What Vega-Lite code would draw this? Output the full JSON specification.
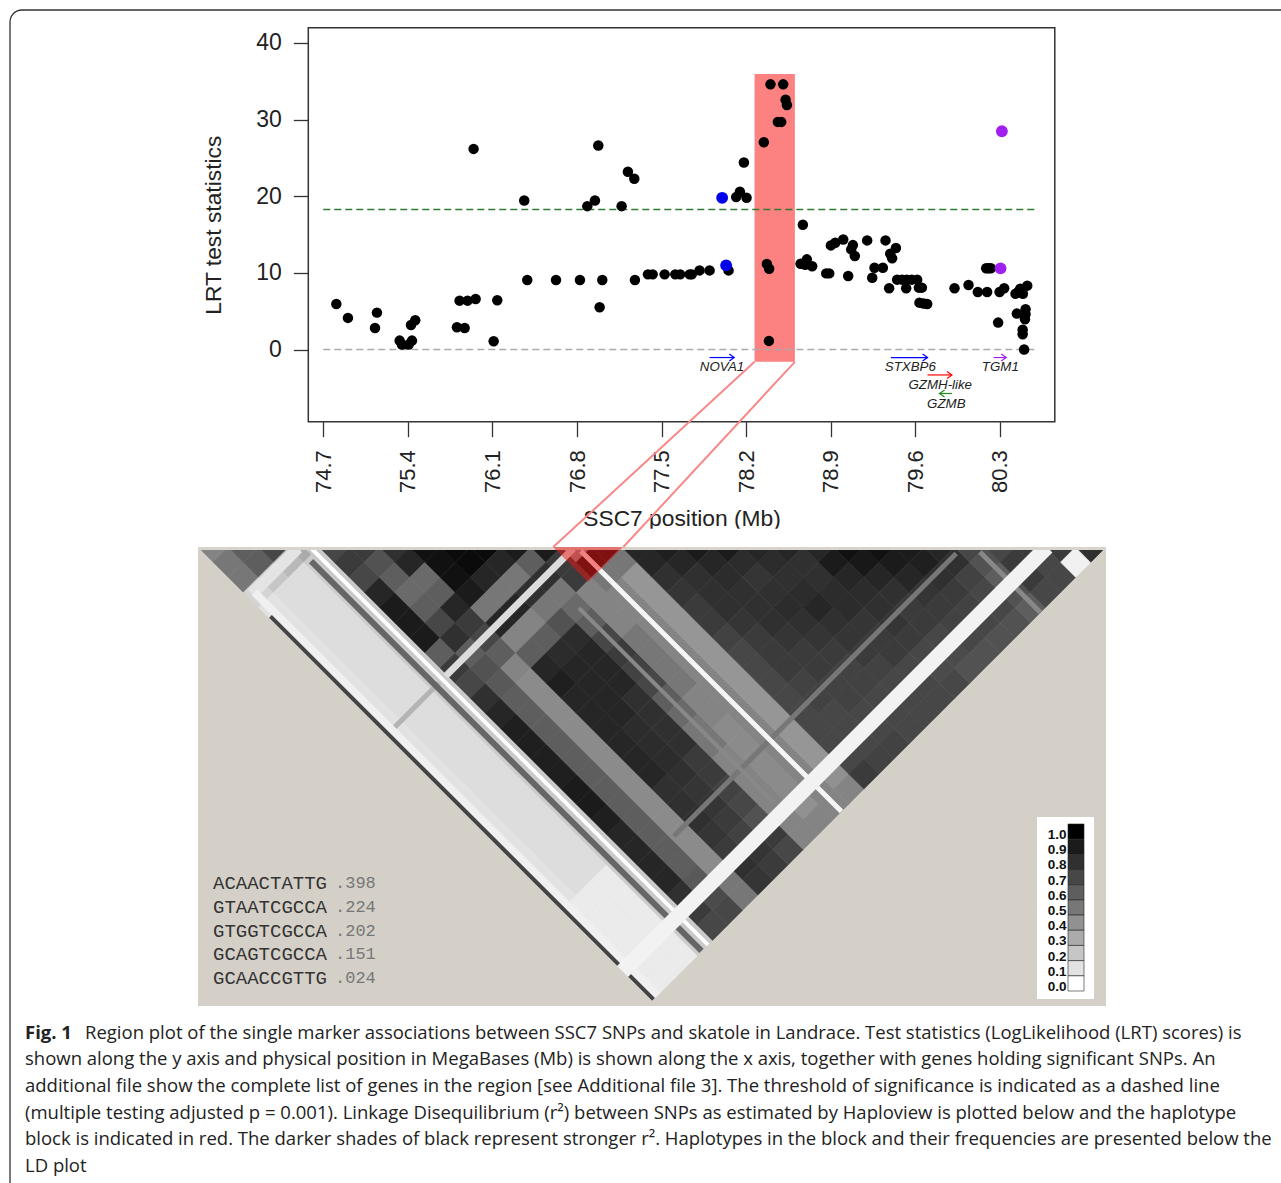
{"$schema":"https://vega.github.io/schema/vega-lite/v6.json","width":1281,"height":1183,"padding":0,"autosize":{"type":"none"},"background":"white","config":{"view":{"stroke":null}},
"datasets":{
"cells":[
{"u":1,"v":1,"r":0.45},{"u":2,"v":2,"r":0.5},{"u":3,"v":3,"r":0.5},{"u":4,"v":4,"r":0.15},{"u":5,"v":5,"r":0.1},{"u":6,"v":6,"r":0.1},{"u":7,"v":7,"r":0.1},{"u":8,"v":8,"r":0.1},{"u":9,"v":9,"r":0.1},{"u":10,"v":10,"r":0.1},{"u":11,"v":11,"r":0.1},{"u":12,"v":12,"r":0.1},{"u":13,"v":13,"r":0.1},{"u":14,"v":14,"r":0.1},{"u":15,"v":15,"r":0.1},{"u":16,"v":16,"r":0.1},{"u":17,"v":17,"r":0.1},{"u":18,"v":18,"r":0.1},{"u":19,"v":19,"r":0.1},{"u":20,"v":20,"r":0.1},{"u":21,"v":21,"r":0.1},{"u":22,"v":22,"r":0.1},{"u":23,"v":23,"r":0.1},{"u":24,"v":24,"r":0.1},{"u":25,"v":25,"r":0.07},{"u":26,"v":26,"r":0.07},{"u":27,"v":27,"r":0.07},{"u":28,"v":28,"r":0.07},{"u":29,"v":29,"r":0.07},{"u":30,"v":30,"r":0.07},
{"u":3,"v":1,"r":0.6},{"u":4,"v":2,"r":0.6},{"u":5,"v":3,"r":0.2},{"u":6,"v":4,"r":0.12},{"u":7,"v":5,"r":0.12},{"u":8,"v":6,"r":0.12},{"u":9,"v":7,"r":0.12},{"u":10,"v":8,"r":0.12},{"u":11,"v":9,"r":0.12},{"u":12,"v":10,"r":0.12},{"u":13,"v":11,"r":0.12},{"u":14,"v":12,"r":0.12},{"u":15,"v":13,"r":0.12},{"u":16,"v":14,"r":0.12},{"u":17,"v":15,"r":0.12},{"u":18,"v":16,"r":0.12},{"u":19,"v":17,"r":0.12},{"u":20,"v":18,"r":0.12},{"u":21,"v":19,"r":0.12},{"u":22,"v":20,"r":0.12},{"u":23,"v":21,"r":0.12},{"u":24,"v":22,"r":0.12},{"u":25,"v":23,"r":0.12},{"u":26,"v":24,"r":0.07},{"u":27,"v":25,"r":0.07},{"u":28,"v":26,"r":0.07},{"u":29,"v":27,"r":0.07},{"u":30,"v":28,"r":0.07},{"u":31,"v":29,"r":0.07},
{"u":5,"v":1,"r":0.7},{"u":6,"v":2,"r":0.25},{"u":7,"v":3,"r":0.12},{"u":8,"v":4,"r":0.12},{"u":9,"v":5,"r":0.12},{"u":10,"v":6,"r":0.12},{"u":11,"v":7,"r":0.12},{"u":12,"v":8,"r":0.12},{"u":13,"v":9,"r":0.12},{"u":14,"v":10,"r":0.12},{"u":15,"v":11,"r":0.12},{"u":16,"v":12,"r":0.12},{"u":17,"v":13,"r":0.12},{"u":18,"v":14,"r":0.12},{"u":19,"v":15,"r":0.12},{"u":20,"v":16,"r":0.12},{"u":21,"v":17,"r":0.12},{"u":22,"v":18,"r":0.12},{"u":23,"v":19,"r":0.12},{"u":24,"v":20,"r":0.12},{"u":25,"v":21,"r":0.12},{"u":26,"v":22,"r":0.12},{"u":27,"v":23,"r":0.07},{"u":28,"v":24,"r":0.07},{"u":29,"v":25,"r":0.07},{"u":30,"v":26,"r":0.07},{"u":31,"v":27,"r":0.07},{"u":32,"v":28,"r":0.07},
{"u":7,"v":1,"r":0.3},{"u":8,"v":2,"r":0.18},{"u":9,"v":3,"r":0.18},{"u":10,"v":4,"r":0.18},{"u":11,"v":5,"r":0.18},{"u":12,"v":6,"r":0.18},{"u":13,"v":7,"r":0.18},{"u":14,"v":8,"r":0.18},{"u":15,"v":9,"r":0.18},{"u":16,"v":10,"r":0.18},{"u":17,"v":11,"r":0.18},{"u":18,"v":12,"r":0.18},{"u":19,"v":13,"r":0.18},{"u":20,"v":14,"r":0.18},{"u":21,"v":15,"r":0.18},{"u":22,"v":16,"r":0.18},{"u":23,"v":17,"r":0.18},{"u":24,"v":18,"r":0.18},{"u":25,"v":19,"r":0.18},{"u":26,"v":20,"r":0.18},{"u":27,"v":21,"r":0.18},{"u":28,"v":22,"r":0.18},{"u":29,"v":23,"r":0.18},{"u":30,"v":24,"r":0.18},{"u":31,"v":25,"r":0.18},{"u":32,"v":26,"r":0.18},{"u":33,"v":27,"r":0.18},
{"u":9,"v":1,"r":0.7},{"u":10,"v":2,"r":0.75},{"u":11,"v":3,"r":0.7},{"u":12,"v":4,"r":0.85},{"u":13,"v":5,"r":0.9},{"u":14,"v":6,"r":0.9},{"u":15,"v":7,"r":0.9},{"u":16,"v":8,"r":0.6},{"u":17,"v":9,"r":0.75},{"u":18,"v":10,"r":0.7},{"u":19,"v":11,"r":0.8},{"u":20,"v":12,"r":0.85},{"u":21,"v":13,"r":0.88},{"u":22,"v":14,"r":0.88},{"u":23,"v":15,"r":0.88},{"u":24,"v":16,"r":0.88},{"u":25,"v":17,"r":0.9},{"u":26,"v":18,"r":0.9},{"u":27,"v":19,"r":0.88},{"u":28,"v":20,"r":0.85},{"u":29,"v":21,"r":0.85},{"u":30,"v":22,"r":0.85},{"u":31,"v":23,"r":0.85},{"u":32,"v":24,"r":0.8},{"u":33,"v":25,"r":0.75},{"u":34,"v":26,"r":0.7},
{"u":11,"v":1,"r":0.75},{"u":12,"v":2,"r":0.65},{"u":13,"v":3,"r":0.6},{"u":14,"v":4,"r":0.55},{"u":15,"v":5,"r":0.6},{"u":16,"v":6,"r":0.7},{"u":17,"v":7,"r":0.8},{"u":18,"v":8,"r":0.6},{"u":19,"v":9,"r":0.65},{"u":20,"v":10,"r":0.62},{"u":21,"v":11,"r":0.6},{"u":22,"v":12,"r":0.6},{"u":23,"v":13,"r":0.6},{"u":24,"v":14,"r":0.6},{"u":25,"v":15,"r":0.6},{"u":26,"v":16,"r":0.6},{"u":27,"v":17,"r":0.6},{"u":28,"v":18,"r":0.6},{"u":29,"v":19,"r":0.6},{"u":30,"v":20,"r":0.6},{"u":31,"v":21,"r":0.6},{"u":32,"v":22,"r":0.6},{"u":33,"v":23,"r":0.62},{"u":34,"v":24,"r":0.68},{"u":35,"v":25,"r":0.7},
{"u":13,"v":1,"r":0.8},{"u":14,"v":2,"r":0.85},{"u":15,"v":3,"r":0.55},{"u":16,"v":4,"r":0.6},{"u":17,"v":5,"r":0.85},{"u":18,"v":6,"r":0.75},{"u":19,"v":7,"r":0.7},{"u":20,"v":8,"r":0.6},{"u":21,"v":9,"r":0.45},{"u":22,"v":10,"r":0.42},{"u":23,"v":11,"r":0.42},{"u":24,"v":12,"r":0.42},{"u":25,"v":13,"r":0.42},{"u":26,"v":14,"r":0.42},{"u":27,"v":15,"r":0.42},{"u":28,"v":16,"r":0.42},{"u":29,"v":17,"r":0.42},{"u":30,"v":18,"r":0.42},{"u":31,"v":19,"r":0.42},{"u":32,"v":20,"r":0.42},{"u":33,"v":21,"r":0.42},{"u":34,"v":22,"r":0.42},{"u":35,"v":23,"r":0.5},{"u":36,"v":24,"r":0.5},
{"u":15,"v":1,"r":0.95},{"u":16,"v":2,"r":0.95},{"u":17,"v":3,"r":0.95},{"u":18,"v":4,"r":0.9},{"u":19,"v":5,"r":0.5},{"u":20,"v":6,"r":0.85},{"u":21,"v":7,"r":0.45},{"u":22,"v":8,"r":0.6},{"u":23,"v":9,"r":0.85},{"u":24,"v":10,"r":0.88},{"u":25,"v":11,"r":0.85},{"u":26,"v":12,"r":0.85},{"u":27,"v":13,"r":0.85},{"u":28,"v":14,"r":0.85},{"u":29,"v":15,"r":0.85},{"u":30,"v":16,"r":0.85},{"u":31,"v":17,"r":0.8},{"u":32,"v":18,"r":0.8},{"u":33,"v":19,"r":0.8},{"u":34,"v":20,"r":0.78},{"u":35,"v":21,"r":0.75},{"u":36,"v":22,"r":0.8},{"u":37,"v":23,"r":0.78},
{"u":17,"v":1,"r":0.97},{"u":18,"v":2,"r":0.97},{"u":19,"v":3,"r":0.85},{"u":20,"v":4,"r":0.5},{"u":21,"v":5,"r":0.85},{"u":22,"v":6,"r":0.45},{"u":23,"v":7,"r":0.6},{"u":24,"v":8,"r":0.82},{"u":25,"v":9,"r":0.85},{"u":26,"v":10,"r":0.85},{"u":27,"v":11,"r":0.85},{"u":28,"v":12,"r":0.85},{"u":29,"v":13,"r":0.82},{"u":30,"v":14,"r":0.82},{"u":31,"v":15,"r":0.82},{"u":32,"v":16,"r":0.8},{"u":33,"v":17,"r":0.78},{"u":34,"v":18,"r":0.78},{"u":35,"v":19,"r":0.75},{"u":36,"v":20,"r":0.72},{"u":37,"v":21,"r":0.78},{"u":38,"v":22,"r":0.75},
{"u":19,"v":1,"r":0.97},{"u":20,"v":2,"r":0.85},{"u":21,"v":3,"r":0.5},{"u":22,"v":4,"r":0.8},{"u":23,"v":5,"r":0.5},{"u":24,"v":6,"r":0.65},{"u":25,"v":7,"r":0.82},{"u":26,"v":8,"r":0.85},{"u":27,"v":9,"r":0.85},{"u":28,"v":10,"r":0.85},{"u":29,"v":11,"r":0.8},{"u":30,"v":12,"r":0.8},{"u":31,"v":13,"r":0.8},{"u":32,"v":14,"r":0.8},{"u":33,"v":15,"r":0.75},{"u":34,"v":16,"r":0.75},{"u":35,"v":17,"r":0.72},{"u":36,"v":18,"r":0.7},{"u":37,"v":19,"r":0.65},{"u":38,"v":20,"r":0.75},{"u":39,"v":21,"r":0.7},
{"u":21,"v":1,"r":0.9},{"u":22,"v":2,"r":0.6},{"u":23,"v":3,"r":0.8},{"u":24,"v":4,"r":0.5},{"u":25,"v":5,"r":0.55},{"u":26,"v":6,"r":0.6},{"u":27,"v":7,"r":0.7},{"u":28,"v":8,"r":0.75},{"u":29,"v":9,"r":0.72},{"u":30,"v":10,"r":0.7},{"u":31,"v":11,"r":0.6},{"u":32,"v":12,"r":0.55},{"u":33,"v":13,"r":0.5},{"u":34,"v":14,"r":0.5},{"u":35,"v":15,"r":0.45},{"u":36,"v":16,"r":0.45},{"u":37,"v":17,"r":0.45},{"u":38,"v":18,"r":0.45},{"u":39,"v":19,"r":0.45},{"u":40,"v":20,"r":0.45},
{"u":23,"v":1,"r":0.9},{"u":24,"v":2,"r":0.75},{"u":25,"v":3,"r":0.75},{"u":26,"v":4,"r":0.45},{"u":27,"v":5,"r":0.45},{"u":28,"v":6,"r":0.45},{"u":29,"v":7,"r":0.5},{"u":30,"v":8,"r":0.5},{"u":31,"v":9,"r":0.5},{"u":32,"v":10,"r":0.5},{"u":33,"v":11,"r":0.45},{"u":34,"v":12,"r":0.45},{"u":35,"v":13,"r":0.42},{"u":36,"v":14,"r":0.42},{"u":37,"v":15,"r":0.42},{"u":38,"v":16,"r":0.42},{"u":39,"v":17,"r":0.42},{"u":40,"v":18,"r":0.4},{"u":41,"v":19,"r":0.45},
{"u":25,"v":1,"r":0.4},{"u":26,"v":2,"r":0.95},{"u":27,"v":3,"r":0.5},{"u":28,"v":4,"r":0.45},{"u":29,"v":5,"r":0.45},{"u":30,"v":6,"r":0.45},{"u":31,"v":7,"r":0.45},{"u":32,"v":8,"r":0.45},{"u":33,"v":9,"r":0.45},{"u":34,"v":10,"r":0.45},{"u":35,"v":11,"r":0.45},{"u":36,"v":12,"r":0.45},{"u":37,"v":13,"r":0.45},{"u":38,"v":14,"r":0.45},{"u":39,"v":15,"r":0.45},{"u":40,"v":16,"r":0.45},{"u":41,"v":17,"r":0.45},{"u":42,"v":18,"r":0.45},
{"u":27,"v":1,"r":0.95},{"u":28,"v":2,"r":0.5},{"u":29,"v":3,"r":0.38},{"u":30,"v":4,"r":0.38},{"u":31,"v":5,"r":0.38},{"u":32,"v":6,"r":0.38},{"u":33,"v":7,"r":0.38},{"u":34,"v":8,"r":0.38},{"u":35,"v":9,"r":0.38},{"u":36,"v":10,"r":0.38},{"u":37,"v":11,"r":0.38},{"u":38,"v":12,"r":0.38},{"u":39,"v":13,"r":0.38},{"u":40,"v":14,"r":0.38},{"u":41,"v":15,"r":0.38},{"u":42,"v":16,"r":0.4},{"u":43,"v":17,"r":0.45},
{"u":29,"v":1,"r":0.85},{"u":30,"v":2,"r":0.85},{"u":31,"v":3,"r":0.8},{"u":32,"v":4,"r":0.78},{"u":33,"v":5,"r":0.75},{"u":34,"v":6,"r":0.75},{"u":35,"v":7,"r":0.72},{"u":36,"v":8,"r":0.7},{"u":37,"v":9,"r":0.7},{"u":38,"v":10,"r":0.7},{"u":39,"v":11,"r":0.7},{"u":40,"v":12,"r":0.7},{"u":41,"v":13,"r":0.7},{"u":42,"v":14,"r":0.7},{"u":43,"v":15,"r":0.7},{"u":44,"v":16,"r":0.75},
{"u":31,"v":1,"r":0.88},{"u":32,"v":2,"r":0.85},{"u":33,"v":3,"r":0.8},{"u":34,"v":4,"r":0.8},{"u":35,"v":5,"r":0.8},{"u":36,"v":6,"r":0.78},{"u":37,"v":7,"r":0.75},{"u":38,"v":8,"r":0.75},{"u":39,"v":9,"r":0.75},{"u":40,"v":10,"r":0.72},{"u":41,"v":11,"r":0.72},{"u":42,"v":12,"r":0.7},{"u":43,"v":13,"r":0.7},{"u":44,"v":14,"r":0.7},{"u":45,"v":15,"r":0.72},
{"u":33,"v":1,"r":0.9},{"u":34,"v":2,"r":0.85},{"u":35,"v":3,"r":0.82},{"u":36,"v":4,"r":0.8},{"u":37,"v":5,"r":0.8},{"u":38,"v":6,"r":0.8},{"u":39,"v":7,"r":0.78},{"u":40,"v":8,"r":0.75},{"u":41,"v":9,"r":0.75},{"u":42,"v":10,"r":0.72},{"u":43,"v":11,"r":0.72},{"u":44,"v":12,"r":0.7},{"u":45,"v":13,"r":0.7},{"u":46,"v":14,"r":0.72},
{"u":35,"v":1,"r":0.9},{"u":36,"v":2,"r":0.82},{"u":37,"v":3,"r":0.78},{"u":38,"v":4,"r":0.8},{"u":39,"v":5,"r":0.82},{"u":40,"v":6,"r":0.8},{"u":41,"v":7,"r":0.78},{"u":42,"v":8,"r":0.75},{"u":43,"v":9,"r":0.72},{"u":44,"v":10,"r":0.72},{"u":45,"v":11,"r":0.7},{"u":46,"v":12,"r":0.7},{"u":47,"v":13,"r":0.7},
{"u":37,"v":1,"r":0.85},{"u":38,"v":2,"r":0.82},{"u":39,"v":3,"r":0.8},{"u":40,"v":4,"r":0.82},{"u":41,"v":5,"r":0.85},{"u":42,"v":6,"r":0.8},{"u":43,"v":7,"r":0.78},{"u":44,"v":8,"r":0.75},{"u":45,"v":9,"r":0.72},{"u":46,"v":10,"r":0.7},{"u":47,"v":11,"r":0.7},{"u":48,"v":12,"r":0.7},
{"u":39,"v":1,"r":0.85},{"u":40,"v":2,"r":0.8},{"u":41,"v":3,"r":0.8},{"u":42,"v":4,"r":0.82},{"u":43,"v":5,"r":0.82},{"u":44,"v":6,"r":0.78},{"u":45,"v":7,"r":0.75},{"u":46,"v":8,"r":0.75},{"u":47,"v":9,"r":0.7},{"u":48,"v":10,"r":0.7},{"u":49,"v":11,"r":0.7},
{"u":41,"v":1,"r":0.85},{"u":42,"v":2,"r":0.9},{"u":43,"v":3,"r":0.85},{"u":44,"v":4,"r":0.82},{"u":45,"v":5,"r":0.8},{"u":46,"v":6,"r":0.78},{"u":47,"v":7,"r":0.75},{"u":48,"v":8,"r":0.7},{"u":49,"v":9,"r":0.68},{"u":50,"v":10,"r":0.7},
{"u":43,"v":1,"r":0.95},{"u":44,"v":2,"r":0.92},{"u":45,"v":3,"r":0.85},{"u":46,"v":4,"r":0.8},{"u":47,"v":5,"r":0.75},{"u":48,"v":6,"r":0.75},{"u":49,"v":7,"r":0.7},{"u":50,"v":8,"r":0.68},{"u":51,"v":9,"r":0.65},
{"u":45,"v":1,"r":0.95},{"u":46,"v":2,"r":0.9},{"u":47,"v":3,"r":0.85},{"u":48,"v":4,"r":0.78},{"u":49,"v":5,"r":0.75},{"u":50,"v":6,"r":0.72},{"u":51,"v":7,"r":0.7},{"u":52,"v":8,"r":0.65},
{"u":47,"v":1,"r":0.9},{"u":48,"v":2,"r":0.88},{"u":49,"v":3,"r":0.8},{"u":50,"v":4,"r":0.75},{"u":51,"v":5,"r":0.72},{"u":52,"v":6,"r":0.7},{"u":53,"v":7,"r":0.65},
{"u":49,"v":1,"r":0.85},{"u":50,"v":2,"r":0.8},{"u":51,"v":3,"r":0.72},{"u":52,"v":4,"r":0.7},{"u":53,"v":5,"r":0.7},{"u":54,"v":6,"r":0.65},
{"u":51,"v":1,"r":0.7},{"u":52,"v":2,"r":0.65},{"u":53,"v":3,"r":0.6},{"u":54,"v":4,"r":0.65},{"u":55,"v":5,"r":0.6},
{"u":53,"v":1,"r":0.7},{"u":54,"v":2,"r":0.75},{"u":55,"v":3,"r":0.75},{"u":56,"v":4,"r":0.7},
{"u":55,"v":1,"r":0.75},{"u":56,"v":2,"r":0.7},{"u":57,"v":3,"r":0.7},
{"u":57,"v":1,"r":0.75},{"u":58,"v":2,"r":0.05},
{"u":59,"v":1,"r":0.8}],
"stripes":[
{"k":"g975","u":51.67,"v":1.33,"u2":55.67,"v2":5.33},
{"k":"g963","u":31.45,"v":20.1,"u2":50.1,"v2":1.43},
{"k":"g518","u":25.17,"v":5.03,"u2":38.06,"v2":17.9},
{"k":"low575","u":12.69,"v":13.22,"u2":16.15,"v2":9.75},
{"k":"hi575","u":16.15,"v":9.75,"u2":24.8,"v2":1.1},
{"k":"w577","u":25.3,"v":1.26,"u2":42.52,"v2":18.48},
{"k":"q299","u":3.57,"v":4.1,"u2":6.6,"v2":1.07},
{"k":"e209","u":3.73,"v":4.0,"u2":30.36,"v2":30.63},
{"k":"d201","u":4.79,"v":5.59,"u2":30.1,"v2":30.9},
{"k":"d297","u":7.47,"v":1.93,"u2":33.27,"v2":27.7},
{"k":"g310","u":7.4,"v":1,"u2":33.7,"v2":27.3},
{"k":"w310","u":7.4,"v":1,"u2":33.7,"v2":27.3},
{"k":"band","u":28.05,"v":29.05,"u2":56.1,"v2":1}],
"points":[
{"mb":74.808,"lrt":5.95,"g":"ns"},{"mb":74.904,"lrt":4.13,"g":"ns"},{"mb":75.144,"lrt":4.82,"g":"ns"},{"mb":75.128,"lrt":2.82,"g":"ns"},{"mb":75.332,"lrt":1.17,"g":"ns"},{"mb":75.351,"lrt":0.65,"g":"ns"},{"mb":75.406,"lrt":0.65,"g":"ns"},{"mb":75.434,"lrt":1.17,"g":"ns"},{"mb":75.426,"lrt":3.21,"g":"ns"},{"mb":75.461,"lrt":3.82,"g":"ns"},{"mb":75.806,"lrt":2.91,"g":"ns"},{"mb":75.87,"lrt":2.82,"g":"ns"},{"mb":75.828,"lrt":6.38,"g":"ns"},{"mb":75.894,"lrt":6.38,"g":"ns"},{"mb":75.961,"lrt":6.6,"g":"ns"},{"mb":76.14,"lrt":6.43,"g":"ns"},{"mb":76.11,"lrt":1.09,"g":"ns"},{"mb":75.944,"lrt":26.18,"g":"ns"},{"mb":76.363,"lrt":19.45,"g":"ns"},{"mb":76.388,"lrt":9.08,"g":"ns"},{"mb":76.626,"lrt":9.08,"g":"ns"},{"mb":76.824,"lrt":9.08,"g":"ns"},{"mb":77.009,"lrt":9.08,"g":"ns"},{"mb":76.987,"lrt":5.51,"g":"ns"},{"mb":76.885,"lrt":18.71,"g":"ns"},{"mb":76.948,"lrt":19.45,"g":"ns"},{"mb":76.976,"lrt":26.62,"g":"ns"},{"mb":77.169,"lrt":18.71,"g":"ns"},{"mb":77.221,"lrt":23.19,"g":"ns"},{"mb":77.274,"lrt":22.28,"g":"ns"},{"mb":77.279,"lrt":9.08,"g":"ns"},{"mb":77.387,"lrt":9.81,"g":"ns"},{"mb":77.426,"lrt":9.81,"g":"ns"},{"mb":77.525,"lrt":9.81,"g":"ns"},{"mb":77.613,"lrt":9.81,"g":"ns"},{"mb":77.654,"lrt":9.81,"g":"ns"},{"mb":77.732,"lrt":9.81,"g":"ns"},{"mb":77.75,"lrt":9.81,"g":"ns"},{"mb":77.814,"lrt":10.33,"g":"ns"},{"mb":77.897,"lrt":10.33,"g":"ns"},{"mb":78.054,"lrt":10.33,"g":"ns"},{"mb":78.034,"lrt":10.99,"g":"blue"},{"mb":78.001,"lrt":19.8,"g":"blue"},{"mb":78.117,"lrt":19.89,"g":"ns"},{"mb":78.148,"lrt":20.58,"g":"ns"},{"mb":78.203,"lrt":19.8,"g":"ns"},{"mb":78.181,"lrt":24.4,"g":"ns"},{"mb":78.346,"lrt":27.05,"g":"ns"},{"mb":78.401,"lrt":34.6,"g":"ns"},{"mb":78.506,"lrt":34.6,"g":"ns"},{"mb":78.526,"lrt":32.6,"g":"ns"},{"mb":78.537,"lrt":31.9,"g":"ns"},{"mb":78.462,"lrt":29.7,"g":"ns"},{"mb":78.49,"lrt":29.7,"g":"ns"},{"mb":78.371,"lrt":11.16,"g":"ns"},{"mb":78.39,"lrt":10.55,"g":"ns"},{"mb":78.388,"lrt":1.13,"g":"ns"},{"mb":78.669,"lrt":16.28,"g":"ns"},{"mb":78.65,"lrt":11.2,"g":"ns"},{"mb":78.702,"lrt":11.77,"g":"ns"},{"mb":78.688,"lrt":11.07,"g":"ns"},{"mb":78.746,"lrt":10.86,"g":"ns"},{"mb":78.862,"lrt":9.94,"g":"ns"},{"mb":78.887,"lrt":9.94,"g":"ns"},{"mb":78.901,"lrt":13.59,"g":"ns"},{"mb":78.937,"lrt":13.94,"g":"ns"},{"mb":79.003,"lrt":14.37,"g":"ns"},{"mb":79.083,"lrt":13.63,"g":"ns"},{"mb":79.069,"lrt":13.07,"g":"ns"},{"mb":79.099,"lrt":12.2,"g":"ns"},{"mb":79.044,"lrt":9.6,"g":"ns"},{"mb":79.201,"lrt":14.24,"g":"ns"},{"mb":79.353,"lrt":14.24,"g":"ns"},{"mb":79.439,"lrt":13.24,"g":"ns"},{"mb":79.392,"lrt":12.5,"g":"ns"},{"mb":79.408,"lrt":11.9,"g":"ns"},{"mb":79.262,"lrt":10.68,"g":"ns"},{"mb":79.331,"lrt":10.68,"g":"ns"},{"mb":79.243,"lrt":9.38,"g":"ns"},{"mb":79.449,"lrt":9.12,"g":"ns"},{"mb":79.49,"lrt":9.12,"g":"ns"},{"mb":79.53,"lrt":9.12,"g":"ns"},{"mb":79.57,"lrt":9.12,"g":"ns"},{"mb":79.615,"lrt":9.12,"g":"ns"},{"mb":79.383,"lrt":7.99,"g":"ns"},{"mb":79.524,"lrt":7.99,"g":"ns"},{"mb":79.629,"lrt":8.08,"g":"ns"},{"mb":79.654,"lrt":8.08,"g":"ns"},{"mb":79.634,"lrt":6.12,"g":"ns"},{"mb":79.668,"lrt":6.0,"g":"ns"},{"mb":79.698,"lrt":5.95,"g":"ns"},{"mb":79.924,"lrt":7.99,"g":"ns"},{"mb":80.04,"lrt":8.42,"g":"ns"},{"mb":80.117,"lrt":7.51,"g":"ns"},{"mb":80.194,"lrt":7.51,"g":"ns"},{"mb":80.186,"lrt":10.6,"g":"ns"},{"mb":80.205,"lrt":10.6,"g":"ns"},{"mb":80.225,"lrt":10.6,"g":"ns"},{"mb":80.305,"lrt":10.6,"g":"purple"},{"mb":80.316,"lrt":28.48,"g":"purple"},{"mb":80.297,"lrt":7.51,"g":"ns"},{"mb":80.335,"lrt":7.99,"g":"ns"},{"mb":80.429,"lrt":7.29,"g":"ns"},{"mb":80.45,"lrt":7.51,"g":"ns"},{"mb":80.468,"lrt":7.95,"g":"ns"},{"mb":80.49,"lrt":7.29,"g":"ns"},{"mb":80.526,"lrt":8.34,"g":"ns"},{"mb":80.285,"lrt":3.52,"g":"ns"},{"mb":80.44,"lrt":4.69,"g":"ns"},{"mb":80.512,"lrt":5.25,"g":"ns"},{"mb":80.512,"lrt":4.6,"g":"ns"},{"mb":80.507,"lrt":3.95,"g":"ns"},{"mb":80.488,"lrt":2.6,"g":"ns"},{"mb":80.488,"lrt":2.0,"g":"ns"},{"mb":80.5,"lrt":0,"g":"ns"}],
"genes":[
{"gene":"NOVA1","from":77.897,"to":78.101,"lane":-1.04,"dir":"right","lx":78.0,"ly":-2.31},
{"gene":"STXBP6","from":79.398,"to":79.701,"lane":-1.04,"dir":"right","lx":79.558,"ly":-2.31},
{"gene":"TGM1","from":80.247,"to":80.352,"lane":-1.04,"dir":"right","lx":80.303,"ly":-2.31},
{"gene":"GZMH-like","from":79.701,"to":79.903,"lane":-3.31,"dir":"right","lx":79.806,"ly":-4.65},
{"gene":"GZMB","from":79.903,"to":79.8,"lane":-5.73,"dir":"left","lx":79.856,"ly":-7.04}],
"lines":[
{"line":1,"col":1,"text":"Region plot of the single marker associations between SSC7 SNPs and skatole in Landrace. Test statistics (LogLikelihood (LRT) scores) is"},
{"line":2,"col":0,"text":"shown along the y axis and physical position in MegaBases (Mb) is shown along the x axis, together with genes holding significant SNPs. An"},
{"line":3,"col":0,"text":"additional file show the complete list of genes in the region [see Additional file 3]. The threshold of significance is indicated as a dashed line"},
{"line":4,"col":0,"text":"(multiple testing adjusted p = 0.001). Linkage Disequilibrium (r²) between SNPs as estimated by Haploview is plotted below and the haplotype"},
{"line":5,"col":0,"text":"block is indicated in red. The darker shades of black represent stronger r². Haplotypes in the block and their frequencies are presented below the"},
{"line":6,"col":0,"text":"LD plot"}],
"legend":[{"r":1.0,"label":"1.0"},{"r":0.9,"label":"0.9"},{"r":0.8,"label":"0.8"},{"r":0.7,"label":"0.7"},{"r":0.6,"label":"0.6"},{"r":0.5,"label":"0.5"},{"r":0.4,"label":"0.4"},{"r":0.3,"label":"0.3"},{"r":0.2,"label":"0.2"},{"r":0.1,"label":"0.1"},{"r":0.0,"label":"0.0"}],
"haps":[{"seq":"ACAACTATTG","freq":".398"},{"seq":"GTAATCGCCA","freq":".224"},{"seq":"GTGGTCGCCA","freq":".202"},{"seq":"GCAGTCGCCA","freq":".151"},{"seq":"GCAACCGTTG","freq":".024"}]
},
"resolve":{"scale":{"x":"independent","y":"independent","fill":"independent","stroke":"independent","color":"independent","size":"independent"}},
"layer":[
{"data":{"values":[{}]},"mark":{"type":"rect","fill":"transparent","stroke":"#333333","strokeWidth":1.3,"cornerRadius":12},
 "encoding":{"x":{"datum":0,"type":"quantitative","axis":null,"scale":{"domain":[0,1],"range":[10,1330]}},"x2":{"datum":1},"y":{"datum":0,"type":"quantitative","axis":null,"scale":{"domain":[0,1],"range":[10,1250]}},"y2":{"datum":1}}},
{"layer":[
 {"data":{"values":[{}]},"mark":{"type":"rect","fill":"#d4d0c8"},"encoding":{"x":{"datum":0,"type":"quantitative","axis":null,"scale":{"domain":[0,60],"range":[198,1106],"nice":false,"zero":false}},"x2":{"datum":60},"y":{"datum":1,"type":"quantitative","axis":null,"scale":{"domain":[1,31],"range":[547,1000.9],"nice":false,"zero":false}},"y2":{"datum":31.33}}},
 {"data":{"name":"cells"},"mark":{"type":"point","shape":"diamond","filled":true,"opacity":1,"size":916,"strokeWidth":0.6},
  "encoding":{"x":{"field":"u","type":"quantitative","axis":null},"y":{"field":"v","type":"quantitative","axis":null},"fill":{"field":"r","type":"quantitative","legend":null,"scale":{"domain":[0,1],"range":["#ffffff","#000000"]}},"stroke":{"field":"r","type":"quantitative","legend":null,"scale":{"domain":[0,1],"range":["#ffffff","#000000"]}}}},
 {"data":{"name":"stripes"},"mark":{"type":"rule","strokeCap":"butt"},
  "encoding":{"x":{"field":"u","type":"quantitative","axis":null},"x2":{"field":"u2"},"y":{"field":"v","type":"quantitative","axis":null},"y2":{"field":"v2"},
   "color":{"field":"k","type":"nominal","legend":null,"scale":{"domain":["g975","g963","g518","low575","hi575","w577","q299","e209","d201","d297","g310","w310","band"],"range":["#888888","#777777","#888888","#b4b4b4","#dcdcdc","#f5f5f5","#e4e4e4","#f0f0f0","#444444","#666666","#c8c8c8","#ffffff","#f2f2f2"]}},
   "size":{"field":"k","type":"nominal","legend":null,"scale":{"type":"ordinal","domain":["g975","g963","g518","low575","hi575","w577","q299","e209","d201","d297","g310","w310","band"],"range":[5,5,4,5,7,5,12,8,4,6,9,4,15.5]}}}},
 {"data":{"values":[{}]},"mark":{"type":"rect","fill":"white"},"encoding":{"x":{"datum":-2,"type":"quantitative","axis":null},"x2":{"datum":62},"y":{"datum":-0.2,"type":"quantitative","axis":null},"y2":{"datum":1}}},
 {"data":{"values":[{}]},"mark":{"type":"rect","fill":"#d8d4cc"},"encoding":{"x":{"datum":0,"type":"quantitative","axis":null},"x2":{"datum":60},"y":{"datum":1,"type":"quantitative","axis":null},"y2":{"datum":1.2}}},
 {"data":{"values":[{"u":25.77,"v":3.31}]},"mark":{"type":"point","shape":"M-1,-1L1,-1L0,0Z","filled":true,"fill":"#ee1111","opacity":0.5,"size":4900,"strokeWidth":0},"encoding":{"x":{"field":"u","type":"quantitative","axis":null},"y":{"field":"v","type":"quantitative","axis":null}}}
]},
{"data":{"name":"haps"},"encoding":{"y":{"field":"seq","type":"nominal","sort":null,"axis":null,"scale":{"range":[871,990],"paddingInner":0,"paddingOuter":0}}},"layer":[
 {"mark":{"type":"text","font":"Liberation Mono","fontSize":19,"align":"left","baseline":"middle","fill":"#333333"},"encoding":{"x":{"datum":0,"type":"quantitative","axis":null,"scale":{"domain":[0,1],"range":[213,335]}},"text":{"field":"seq"}}},
 {"mark":{"type":"text","font":"Liberation Mono","fontSize":17,"align":"left","baseline":"middle","fill":"#777777"},"encoding":{"x":{"datum":1,"type":"quantitative","axis":null},"text":{"field":"freq"}}}
]},
{"data":{"values":[{}]},"mark":{"type":"rect","fill":"white"},"encoding":{"x":{"datum":0,"type":"quantitative","axis":null,"scale":{"domain":[0,1],"range":[1037,1094]}},"x2":{"datum":1},"y":{"datum":0,"type":"quantitative","axis":null,"scale":{"domain":[0,1],"range":[817,999]}},"y2":{"datum":1}}},
{"data":{"name":"legend"},"mark":{"type":"rect","stroke":"#222222","strokeWidth":0.6},"encoding":{"x":{"datum":0,"type":"quantitative","axis":null,"scale":{"domain":[0,1],"range":[1068,1084]}},"x2":{"datum":1},"y":{"field":"label","type":"ordinal","sort":"descending","axis":null,"scale":{"range":[824,991],"paddingInner":0,"paddingOuter":0}},"fill":{"field":"r","type":"quantitative","legend":null,"scale":{"domain":[0,1],"range":["#ffffff","#000000"]}}}},
{"data":{"name":"legend"},"mark":{"type":"text","font":"Liberation Sans","fontWeight":"bold","fontSize":13.5,"align":"right","baseline":"middle","fill":"#111111"},"encoding":{"x":{"datum":1,"type":"quantitative","axis":null,"scale":{"domain":[0,1],"range":[1040,1066.5]}},"y":{"field":"label","type":"ordinal","sort":"descending","axis":null,"scale":{"range":[827.5,994.5],"paddingInner":0,"paddingOuter":0}},"text":{"field":"label"}}},
{"resolve":{"scale":{"color":"independent","size":"independent","fill":"independent"},"axis":{"x":"independent","y":"independent"}},"layer":[
 {"data":{"values":[{"a":74.576,"b":80.754,"c":-9.41,"d":41.99}]},"mark":{"type":"rect","fill":"transparent","stroke":"#333333","strokeWidth":1.5},
  "encoding":{"x":{"field":"a","type":"quantitative","scale":{"domain":[74.576,80.754],"range":[308.3,1054.8],"nice":false,"zero":false},
    "axis":{"orient":"bottom","offset":-761.3,"values":[74.7,75.4,76.1,76.8,77.5,78.2,78.9,79.6,80.3],"format":".1f","title":"SSC7 position (Mb)","domain":false,"grid":false,"tickSize":15,"tickWidth":1.3,"tickColor":"#333333","labelAngle":-90,"labelAlign":"right","labelBaseline":"middle","labelFontSize":22,"labelFont":"Liberation Sans","labelColor":"#222222","labelPadding":13,"titleFontSize":22.8,"titleFont":"Liberation Sans","titleFontWeight":"normal","titleColor":"#222222","titlePadding":15,"labelOverlap":false,"labelBound":false,"labelFlush":false}},
   "x2":{"field":"b"},
   "y":{"field":"c","type":"quantitative","scale":{"domain":[-9.41,41.99],"range":[421.7,27.7],"nice":false,"zero":false},
    "axis":{"orient":"left","offset":-308.3,"values":[0,10,20,30,40],"format":"d","title":"LRT test statistics","domain":false,"grid":false,"tickSize":15,"tickWidth":1.3,"tickColor":"#333333","labelFontSize":23,"labelFont":"Liberation Sans","labelColor":"#222222","labelPadding":12,"titleFontSize":22.8,"titleFont":"Liberation Sans","titleFontWeight":"normal","titleColor":"#222222","titlePadding":30,"labelOverlap":false,"labelBound":false,"labelFlush":false}},
   "y2":{"field":"d"}}},
 {"data":{"values":[{"a":78.269,"b":78.603,"c":-1.6,"d":35.95}]},"mark":{"type":"rect","fill":"#fc8181"},"encoding":{"x":{"field":"a","type":"quantitative","axis":null},"x2":{"field":"b"},"y":{"field":"c","type":"quantitative","axis":null},"y2":{"field":"d"}}},
 {"data":{"values":[{"a":74.7,"b":80.6,"c":18.28,"k":"threshold"},{"a":74.7,"b":80.6,"c":0,"k":"zero"}]},"mark":{"type":"rule","strokeDash":[7,4],"strokeWidth":1.5},"encoding":{"x":{"field":"a","type":"quantitative","axis":null},"x2":{"field":"b"},"y":{"field":"c","type":"quantitative","axis":null},"color":{"field":"k","type":"nominal","legend":null,"scale":{"domain":["threshold","zero"],"range":["#2e7d32","#aaaaaa"]}}}},
 {"data":{"name":"points"},"mark":{"type":"point","shape":"circle","filled":true,"opacity":1,"strokeWidth":0},"encoding":{"x":{"field":"mb","type":"quantitative","axis":null},"y":{"field":"lrt","type":"quantitative","axis":null},"fill":{"field":"g","type":"nominal","legend":null,"scale":{"domain":["ns","blue","purple"],"range":["#000000","#0000ee","#a020f0"]}},"size":{"field":"g","type":"nominal","legend":null,"scale":{"type":"ordinal","domain":["ns","blue","purple"],"range":[110,140,140]}}}},
 {"data":{"name":"genes"},"mark":{"type":"rule","strokeWidth":1.2},"encoding":{"x":{"field":"from","type":"quantitative","axis":null},"x2":{"field":"to"},"y":{"field":"lane","type":"quantitative","axis":null},"color":{"field":"gene","type":"nominal","legend":null,"scale":{"domain":["NOVA1","STXBP6","GZMH-like","GZMB","TGM1"],"range":["#0000ff","#0000ff","#ff0000","#228b22","#a020f0"]}}}},
 {"data":{"name":"genes"},"mark":{"type":"point","filled":false,"opacity":1,"size":100,"strokeWidth":1.2},"encoding":{"x":{"field":"to","type":"quantitative","axis":null},"y":{"field":"lane","type":"quantitative","axis":null},"shape":{"field":"dir","type":"nominal","legend":null,"scale":{"domain":["right","left"],"range":["M-1,-0.7L0,0L-1,0.7","M1,-0.7L0,0L1,0.7"]}},"color":{"field":"gene","type":"nominal","legend":null,"scale":{"domain":["NOVA1","STXBP6","GZMH-like","GZMB","TGM1"],"range":["#0000ff","#0000ff","#ff0000","#228b22","#a020f0"]}}}},
 {"data":{"name":"genes"},"mark":{"type":"text","font":"Liberation Sans","fontStyle":"italic","fontSize":13.3,"align":"center","baseline":"middle","fill":"#222222"},"encoding":{"x":{"field":"lx","type":"quantitative","axis":null},"y":{"field":"ly","type":"quantitative","axis":null},"text":{"field":"gene"}}},
 {"data":{"values":[{"a":78.269,"c":-1.6,"b":76.603,"d":-25.76},{"a":78.603,"c":-1.6,"b":77.183,"d":-25.76}]},"mark":{"type":"rule","stroke":"#f88888","strokeWidth":2},"encoding":{"x":{"field":"a","type":"quantitative","axis":null},"x2":{"field":"b"},"y":{"field":"c","type":"quantitative","axis":null},"y2":{"field":"d"}}}
]},
{"layer":[
 {"data":{"name":"lines"},"mark":{"type":"text","font":"Open Sans","fontSize":18.5,"align":"left","baseline":"middle","fill":"#222222"},"encoding":{"x":{"field":"col","type":"quantitative","axis":null,"scale":{"domain":[0,1],"range":[25,85]}},"y":{"field":"line","type":"ordinal","axis":null,"scale":{"range":[1019.5,1179],"paddingInner":0,"paddingOuter":0}},"text":{"field":"text"}}},
 {"data":{"values":[{"line":1,"col":0,"text":"Fig. 1"}]},"mark":{"type":"text","font":"Open Sans","fontWeight":"bold","fontSize":18.5,"align":"left","baseline":"middle","fill":"#222222"},"encoding":{"x":{"field":"col","type":"quantitative","axis":null},"y":{"field":"line","type":"ordinal","axis":null},"text":{"field":"text"}}}
]}
]}
